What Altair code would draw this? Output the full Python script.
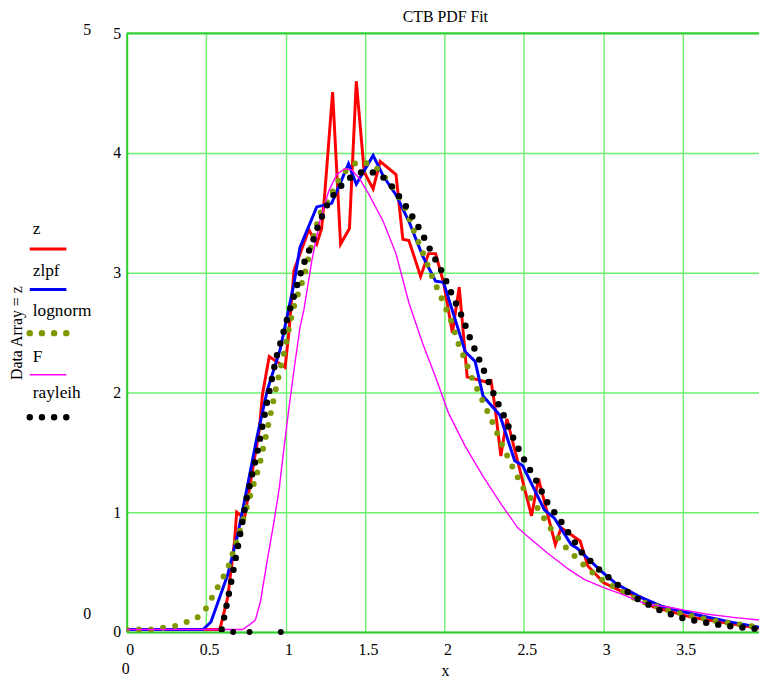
import altair as alt
import pandas as pd

# ---------------- data ----------------
z_x = [0, 0.586, 0.636, 0.679, 0.692, 0.741, 0.835, 0.854, 0.897, 0.997, 1.022, 1.053, 1.146, 1.196,
       1.227, 1.246, 1.296, 1.346, 1.402, 1.445, 1.495, 1.551, 1.595, 1.695, 1.738, 1.776, 1.850, 1.900,
       1.944, 1.994, 2.050, 2.093, 2.143, 2.255, 2.293, 2.318, 2.355, 2.393, 2.548, 2.592, 2.698, 2.735,
       2.854, 2.903, 3.003, 3.128, 3.19, 3.24, 3.315, 3.564, 3.98]
z_y = [0.02, 0.02, 0.29, 0.76, 1.00, 0.95, 1.69, 1.98, 2.30, 2.21, 2.52, 3.02, 3.36, 3.24,
       3.37, 3.65, 4.51, 3.24, 3.37, 4.60, 3.84, 3.70, 3.93, 3.82, 3.28, 3.27, 2.97, 3.16,
       3.16, 2.92, 2.50, 2.88, 2.13, 2.09, 2.10, 1.88, 1.47, 1.78, 0.97, 1.28, 0.73, 0.87,
       0.76, 0.55, 0.41, 0.33, 0.31, 0.29, 0.21, 0.12, 0.03]

zlpf_x = [0, 0.480, 0.530, 0.636, 0.698, 0.760, 0.822, 0.885, 0.966, 1.053, 1.090, 1.196, 1.290, 1.396,
          1.445, 1.551, 1.614, 1.695, 1.776, 1.863, 1.944, 1.994, 2.131, 2.193, 2.243, 2.349, 2.442,
          2.492, 2.629, 2.692, 2.798, 2.835, 2.984, 3.084, 3.234, 3.377, 3.564, 3.813, 3.98]
zlpf_y = [0.02, 0.02, 0.083, 0.48, 0.81, 1.22, 1.64, 2.02, 2.36, 2.91, 3.21, 3.55, 3.58, 3.91,
          3.74, 3.98, 3.81, 3.65, 3.43, 3.14, 2.93, 2.92, 2.34, 2.26, 1.97, 1.81, 1.43,
          1.39, 1.02, 0.95, 0.73, 0.70, 0.51, 0.40, 0.29, 0.21, 0.15, 0.08, 0.04]

lognorm_x = [0, 0.156, 0.305, 0.436, 0.492, 0.567, 0.636, 0.710, 0.773, 0.835, 0.885, 0.947, 0.997,
             1.028, 1.059, 1.115, 1.165, 1.215, 1.271, 1.340, 1.396, 1.458, 1.526, 1.589, 1.688, 1.757,
             1.813, 1.869, 1.925, 1.981, 2.044, 2.087, 2.118, 2.174, 2.237, 2.299, 2.361, 2.424, 2.492,
             2.579, 2.660, 2.754, 2.860, 2.972, 3.103, 3.227, 3.439, 3.670, 3.813, 3.98]
lognorm_y = [0.02, 0.02, 0.05, 0.11, 0.18, 0.36, 0.53, 0.83, 1.12, 1.39, 1.69, 2.08, 2.37,
             2.58, 2.75, 2.96, 3.24, 3.49, 3.61, 3.79, 3.88, 3.93, 3.91, 3.86, 3.69, 3.53,
             3.33, 3.15, 2.96, 2.79, 2.59, 2.41, 2.31, 2.12, 1.94, 1.76, 1.57, 1.39, 1.21,
             1.05, 0.88, 0.72, 0.58, 0.45, 0.35, 0.26, 0.17, 0.10, 0.07, 0.04]

F_x = [0, 0.729, 0.773, 0.810, 0.841, 0.885, 0.928, 0.960, 0.991, 1.022, 1.053, 1.090, 1.115, 1.165,
       1.215, 1.271, 1.321, 1.371, 1.414, 1.464, 1.526, 1.614, 1.695, 1.776, 1.863, 1.944, 2.025,
       2.131, 2.243, 2.361, 2.461, 2.548, 2.648, 2.785, 2.879, 3.003, 3.128, 3.271, 3.396, 3.520,
       3.645, 3.832, 3.98]
F_y = [0.02, 0.02, 0.06, 0.10, 0.25, 0.60, 0.93, 1.20, 1.55, 1.88, 2.19, 2.54, 2.69, 3.10,
       3.43, 3.68, 3.82, 3.87, 3.86, 3.79, 3.65, 3.43, 3.16, 2.75, 2.41, 2.13, 1.83,
       1.55, 1.30, 1.06, 0.87, 0.77, 0.66, 0.52, 0.44, 0.37, 0.31, 0.23, 0.21, 0.18,
       0.15, 0.12, 0.10]

rayleih_x = [0.598, 0.642, 0.698, 0.754, 0.822, 0.879, 0.941, 1.022, 1.109, 1.165, 1.215, 1.277, 1.371,
             1.433, 1.502, 1.583, 1.639, 1.688, 1.776, 1.850, 1.919, 1.988, 2.050, 2.112, 2.168, 2.224,
             2.312, 2.380, 2.436, 2.505, 2.579, 2.648, 2.735, 2.860, 2.966, 3.084, 3.209, 3.340, 3.483,
             3.632, 3.776, 3.925, 3.98]
rayleih_y = [0.02, 0.31, 0.70, 1.11, 1.50, 1.89, 2.29, 2.67, 3.06, 3.24, 3.43, 3.61, 3.76,
             3.82, 3.85, 3.83, 3.77, 3.69, 3.52, 3.35, 3.17, 3.00, 2.81, 2.63, 2.43, 2.26,
             1.98, 1.79, 1.61, 1.43, 1.26, 1.08, 0.92, 0.67, 0.53, 0.40, 0.28, 0.19, 0.12,
             0.08, 0.05, 0.03, 0.025]
# isolated rayleih dots lying on the x axis
rayleih_stray_x = [0.67, 0.773, 0.97]
rayleih_stray_y = [0, 0, 0]

x_ticks = [0, 0.5, 1, 1.5, 2, 2.5, 3, 3.5]
y_ticks = [0, 1, 2, 3, 4, 5]

legend_names = ["z", "zlpf", "lognorm", "F", "rayleih"]
colors = ["#ff0000", "#0000ff", "#7f9a00", "#ff00ff", "#000000"]

FONT = "Liberation Serif"
W, H = 639, 605
GRID = "#6cf06c"
DOMAIN = "#2fcf2f"

xs = alt.X("x:Q", scale=alt.Scale(domain=[0, 3.98], nice=False, zero=False, padding=0),
           axis=alt.Axis(values=x_ticks, format="~g", title=None, grid=True, gridColor=GRID,
                         gridWidth=1.4, gridOpacity=1, ticks=False, tickSize=0, domainColor=DOMAIN,
                         domainWidth=2, labelFont=FONT, labelFontSize=16, labelColor="black",
                         labelPadding=10, labelOffset=3, labelFlush=False))
ys = alt.Y("y:Q", scale=alt.Scale(domain=[0, 5], nice=False, zero=False, padding=0),
           axis=alt.Axis(values=y_ticks, format="d", title=None, grid=True, gridColor=GRID,
                         gridWidth=1.4, gridOpacity=1, ticks=False, tickSize=0, domainColor=DOMAIN,
                         domainWidth=2, labelFont=FONT, labelFontSize=16, labelColor="black",
                         labelPadding=6, labelFlush=False))


def df(xv, yv):
    return pd.DataFrame({"x": xv, "y": yv})


z_line = alt.Chart(df(z_x, z_y)).mark_line(color=colors[0], strokeWidth=3, clip=True).encode(x=xs, y=ys)
zlpf_line = alt.Chart(df(zlpf_x, zlpf_y)).mark_line(color=colors[1], strokeWidth=3, clip=True).encode(x=xs, y=ys)
log_line = alt.Chart(df(lognorm_x, lognorm_y)).mark_line(
    color=colors[2], strokeWidth=6, strokeDash=[0, 12.3], strokeCap="round", clip=True).encode(x=xs, y=ys)
F_line = alt.Chart(df(F_x, F_y)).mark_line(color=colors[3], strokeWidth=1.4, clip=True).encode(x=xs, y=ys)
ray_line = alt.Chart(df(rayleih_x, rayleih_y)).mark_line(
    color=colors[4], strokeWidth=6.5, strokeDash=[0, 12.3], strokeCap="round", clip=True).encode(x=xs, y=ys)
ray_stray = alt.Chart(df(rayleih_stray_x, rayleih_stray_y)).mark_circle(
    color=colors[4], size=36, opacity=1).encode(x=xs, y=ys)

top_border = alt.Chart(pd.DataFrame({"a": [0]})).mark_rule(color=DOMAIN, strokeWidth=2).encode(
    x=alt.value(0), x2=alt.value(W), y=alt.value(0))


def txt(s, x, y, size=16, angle=0, baseline="alphabetic", align="center"):
    return alt.Chart(pd.DataFrame({"t": [s]})).mark_text(
        font=FONT, fontSize=size, color="black", angle=angle, baseline=baseline, align=align
    ).encode(text="t:N", x=alt.value(x), y=alt.value(y))


texts = [
    txt("CTB PDF Fit", 322, -11),
    txt("Data Array = z", -111, 303, angle=270, baseline="middle"),
    txt("5", -40, 2),
    txt("0", -40, 592),
    txt("0", -1, 647),
    txt("x", 322, 650),
]

# legend (left of the plot)
leg_layers = []
leg_text_y = [203, 245, 286, 332, 369]
leg_line_y = [218, 259, 303, 345, 388]
for i, name in enumerate(legend_names):
    leg_layers.append(txt(name, -95, leg_text_y[i], size=17.5, align="left"))
    base = alt.Chart(pd.DataFrame({"a": [0]}))
    if name in ("lognorm", "rayleih"):
        m = base.mark_rule(color=colors[i], strokeWidth=6.5, strokeDash=[0, 12.3], strokeCap="round")
    elif name == "F":
        m = base.mark_rule(color=colors[i], strokeWidth=1.5)
    else:
        m = base.mark_rule(color=colors[i], strokeWidth=3)
    leg_layers.append(m.encode(x=alt.value(-98), x2=alt.value(-61), y=alt.value(leg_line_y[i])))

chart = alt.layer(
    z_line, zlpf_line, log_line, F_line, ray_line, ray_stray, top_border, *texts, *leg_layers
).properties(
    width=W, height=H,
    padding={"left": 120, "top": 22, "right": 0, "bottom": 48},
    autosize=alt.AutoSizeParams(type="none"),
).configure_view(strokeWidth=0).configure(font=FONT)

chart.save("out.html", embed_options={"renderer": "svg", "actions": False})
